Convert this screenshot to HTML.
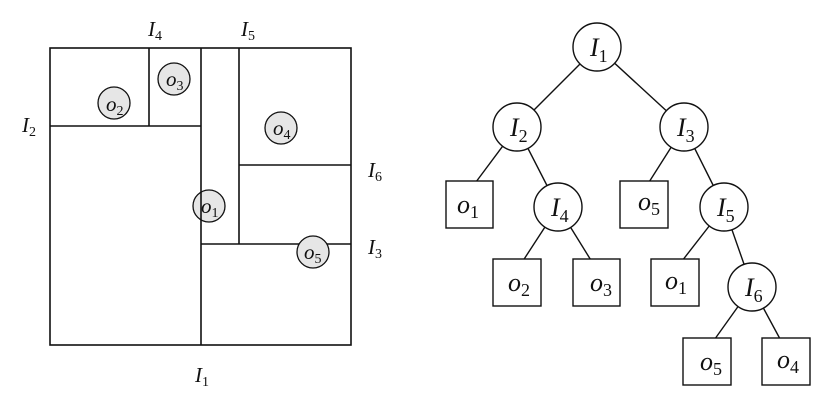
<!DOCTYPE html>
<html><head><meta charset="utf-8"><style>
html,body{margin:0;padding:0;background:#fff;}
svg{display:block;}
text{font-family:"Liberation Serif",serif;font-style:italic;fill:#111;}
</style></head><body>
<svg width="829" height="404" viewBox="0 0 829 404" xmlns="http://www.w3.org/2000/svg">
<g stroke="#111" stroke-width="1.6" fill="none">
<!-- left partition -->
<circle cx="114" cy="103" r="16" fill="#e6e6e6" stroke-width="1.3"/>
<circle cx="174" cy="79" r="16" fill="#e6e6e6" stroke-width="1.3"/>
<circle cx="281" cy="128" r="16" fill="#e6e6e6" stroke-width="1.3"/>
<circle cx="209" cy="206" r="16" fill="#e6e6e6" stroke-width="1.3"/>
<rect x="50" y="48" width="301" height="297"/>
<line x1="201" y1="48" x2="201" y2="345"/>
<line x1="50" y1="126" x2="201" y2="126"/>
<line x1="149" y1="48" x2="149" y2="126"/>
<line x1="239" y1="48" x2="239" y2="244"/>
<line x1="201" y1="244" x2="351" y2="244"/>
<line x1="239" y1="165" x2="351" y2="165"/>
<circle cx="313" cy="252" r="16" fill="#e6e6e6" stroke-width="1.3"/>
</g>
<g font-size="21">
<text x="106" y="111">o<tspan font-size="14" font-style="normal" dy="4">2</tspan></text>
<text x="166" y="86">o<tspan font-size="14" font-style="normal" dy="4">3</tspan></text>
<text x="273" y="135">o<tspan font-size="14" font-style="normal" dy="4">4</tspan></text>
<text x="201" y="213">o<tspan font-size="14" font-style="normal" dy="4">1</tspan></text>
<text x="304" y="259">o<tspan font-size="14" font-style="normal" dy="4">5</tspan></text>
<text x="148" y="36">I<tspan font-size="14" font-style="normal" dy="4">4</tspan></text>
<text x="241" y="36">I<tspan font-size="14" font-style="normal" dy="4">5</tspan></text>
<text x="22" y="132">I<tspan font-size="14" font-style="normal" dy="4">2</tspan></text>
<text x="368" y="177">I<tspan font-size="14" font-style="normal" dy="4">6</tspan></text>
<text x="368" y="254">I<tspan font-size="14" font-style="normal" dy="4">3</tspan></text>
<text x="195" y="382">I<tspan font-size="14" font-style="normal" dy="4">1</tspan></text>
</g>
<!-- tree -->
<g stroke="#111" stroke-width="1.4" fill="#fff">
<line x1="597" y1="47" x2="517" y2="127"/>
<line x1="597" y1="47" x2="684" y2="127"/>
<line x1="517" y1="127" x2="470" y2="190"/>
<line x1="517" y1="127" x2="558" y2="207"/>
<line x1="684" y1="127" x2="644" y2="190"/>
<line x1="684" y1="127" x2="724" y2="207"/>
<line x1="558" y1="207" x2="517" y2="270"/>
<line x1="558" y1="207" x2="597" y2="270"/>
<line x1="724" y1="207" x2="675" y2="270"/>
<line x1="724" y1="207" x2="752" y2="287"/>
<line x1="752" y1="287" x2="707" y2="350"/>
<line x1="752" y1="287" x2="786" y2="350"/>
<circle cx="597" cy="47" r="24"/>
<circle cx="517" cy="127" r="24"/>
<circle cx="684" cy="127" r="24"/>
<circle cx="558" cy="207" r="24"/>
<circle cx="724" cy="207" r="24"/>
<circle cx="752" cy="287" r="24"/>
<rect x="446" y="181" width="47" height="47"/>
<rect x="620" y="181" width="48" height="47"/>
<rect x="493" y="259" width="48" height="47"/>
<rect x="573" y="259" width="47" height="47"/>
<rect x="651" y="259" width="48" height="47"/>
<rect x="683" y="338" width="48" height="47"/>
<rect x="762" y="338" width="48" height="47"/>
</g>
<g font-size="26">
<text x="590" y="56">I<tspan font-size="18" font-style="normal" dy="6">1</tspan></text>
<text x="510" y="136">I<tspan font-size="18" font-style="normal" dy="6">2</tspan></text>
<text x="677" y="136">I<tspan font-size="18" font-style="normal" dy="6">3</tspan></text>
<text x="551" y="216">I<tspan font-size="18" font-style="normal" dy="6">4</tspan></text>
<text x="717" y="216">I<tspan font-size="18" font-style="normal" dy="6">5</tspan></text>
<text x="745" y="296">I<tspan font-size="18" font-style="normal" dy="6">6</tspan></text>
<text x="457" y="213">o<tspan font-size="18" font-style="normal" dy="5">1</tspan></text>
<text x="638" y="210">o<tspan font-size="18" font-style="normal" dy="5">5</tspan></text>
<text x="508" y="291">o<tspan font-size="18" font-style="normal" dy="5">2</tspan></text>
<text x="590" y="291">o<tspan font-size="18" font-style="normal" dy="5">3</tspan></text>
<text x="665" y="289">o<tspan font-size="18" font-style="normal" dy="5">1</tspan></text>
<text x="700" y="370">o<tspan font-size="18" font-style="normal" dy="5">5</tspan></text>
<text x="777" y="368">o<tspan font-size="18" font-style="normal" dy="5">4</tspan></text>
</g>
</svg>
</body></html>
